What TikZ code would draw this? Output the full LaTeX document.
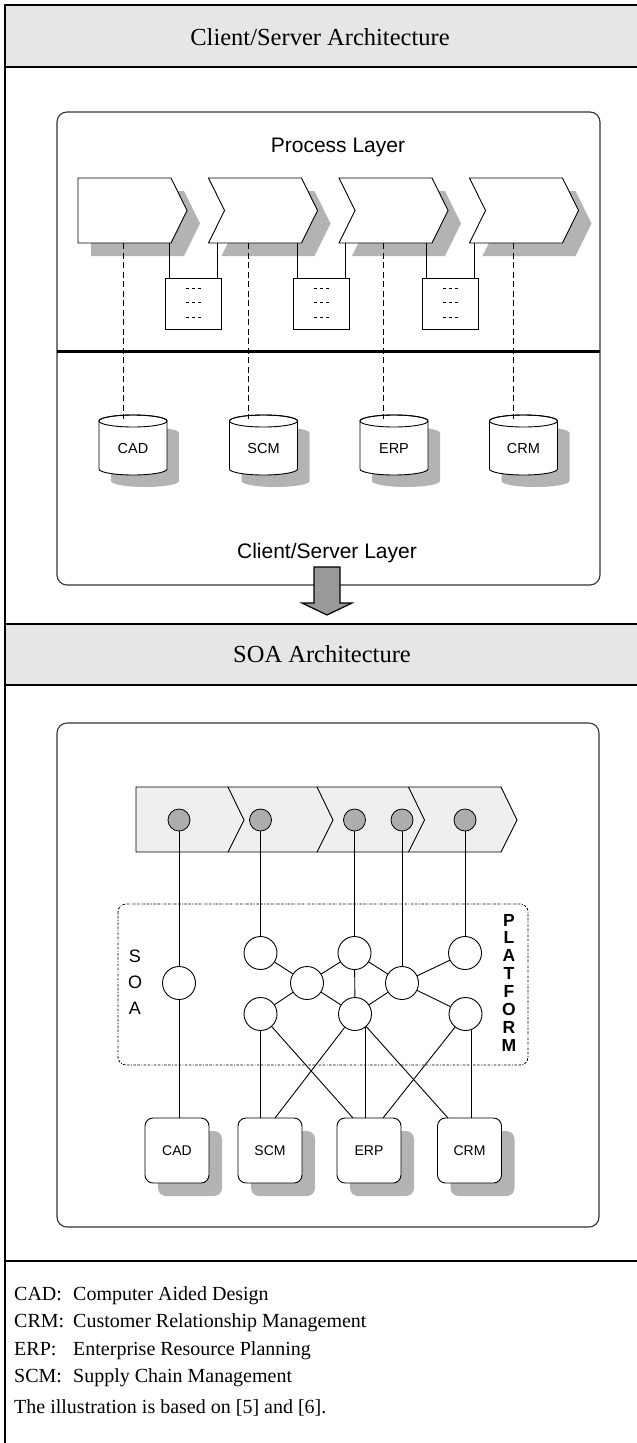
\documentclass[tikz,border=0pt]{standalone}
\usepackage{fontspec}
\setmainfont{Liberation Serif}
\setsansfont{Liberation Sans}
\usetikzlibrary{shadows}
\definecolor{hdr}{HTML}{E6E6E6}
\definecolor{shd}{HTML}{B3B3B3}
\definecolor{bandc}{HTML}{EFEFEF}
\definecolor{dotc}{HTML}{ADADAD}
\definecolor{arrc}{HTML}{999999}
\definecolor{frm}{HTML}{333333}
\begin{document}
\begin{tikzpicture}[x=1pt,y=-1pt,
  hdrtext/.style={font=\fontsize{24.5}{28}\selectfont, anchor=base, inner sep=0},
  lgd/.style={font=\fontsize{20}{24}\selectfont, anchor=base west, inner sep=0},
  lay/.style={font=\sffamily\fontsize{21}{24}\selectfont, anchor=base, inner sep=0},
  lbl/.style={font=\sffamily\fontsize{14.5}{17}\selectfont, anchor=base, inner sep=0},
  vlet/.style={font=\sffamily\fontsize{18}{20}\selectfont, inner sep=0},
  plet/.style={font=\sffamily\bfseries\fontsize{17.5}{20}\selectfont, inner sep=0},
  framel/.style={draw=black, line width=2pt},
  cont/.style={draw=frm, line width=1.1pt, rounded corners=10pt},
  myshadow/.style={drop shadow={shadow xshift=13pt, shadow yshift=-13pt, fill=shd, opacity=1}},
  chev/.style={draw=black, fill=white, line width=0.9pt, myshadow},
  conn/.style={draw=black, line width=0.9pt},
  dsh/.style={draw=black, line width=0.8pt, dash pattern=on 6pt off 3.5pt},
  minidash/.style={draw=black, line width=0.6pt, dash pattern=on 3pt off 3pt},
  sbox/.style={draw=black, fill=white, line width=0.9pt, minimum width=56pt, minimum height=51pt, inner sep=0},
  sysbox/.style={draw=black, fill=white, line width=0.9pt, rounded corners=8pt, minimum width=64pt, minimum height=65pt, inner sep=0, font=\sffamily\fontsize{14}{16}\selectfont, myshadow},
  svc/.style={circle, draw=black, fill=white, line width=0.9pt, minimum size=33pt, inner sep=0},
  dotn/.style={circle, draw=black, fill=dotc, line width=0.8pt, minimum size=22pt, inner sep=0},
  soabox/.style={draw=black, line width=0.8pt, rounded corners=8pt, dash pattern=on 2.5pt off 1.5pt on 2.5pt off 1.5pt on 0.8pt off 1.5pt},
]
\useasboundingbox (0,0) rectangle (637,1443);

% ---------- frame and headers ----------
\fill[hdr] (5,5) rectangle (637,67);
\fill[hdr] (5,624) rectangle (637,685);
\draw[framel] (4,5) -- (637,5);
\draw[framel] (5,67) -- (637,67);
\draw[framel] (5,624) -- (637,624);
\draw[framel] (5,685) -- (637,685);
\draw[framel] (5,1261) -- (637,1261);
\draw[framel] (5,4) -- (5,1443);
\node[hdrtext] (h1) at (320,45) {Client/Server Architecture};
\node[hdrtext] (h2) at (322,662) {SOA Architecture};

% ---------- Client/Server part ----------
\draw[cont] (57,112) rectangle (600,585);
\node[lay] (pl) at (338,152) {Process Layer};

\draw[chev] (78,178) -- (171,178) -- (187,210.5) -- (171,243) -- (78,243) -- cycle;
\foreach \L in {208.5,339,469.5}
  \draw[chev] (\L,178) -- (\L+93,178) -- (\L+109,210.5) -- (\L+93,243) -- (\L,243) -- (\L+16,210.5) -- cycle;

% small function boxes
\node[sbox] (b1) at (193,303.5) {};
\node[sbox] (b2) at (321.5,303.5) {};
\node[sbox] (b3) at (450,303.5) {};
\foreach \bx in {193,321.5,450}
  \foreach \dy in {-15.5,-0.8,13.5}
    \draw[minidash] (\bx-7.5,303.5+\dy) -- (\bx+7.5,303.5+\dy);

\coordinate (cbot) at (0,243);
\foreach \n/\xa/\xb in {1/169/217, 2/297.5/345.5, 3/426/474} {
  \coordinate (b\n l) at (\xa,278);
  \coordinate (b\n r) at (\xb,278);
  \draw[conn] (b\n l) -- (b\n l |- cbot);
  \draw[conn] (b\n r) -- (b\n r |- cbot);
}

\draw[line width=3pt] (57,351) -- (600,351);

% databases
\foreach \cx/\nm/\lab/\dx in {133/cy1/CAD/123, 263.5/cy2/SCM/248, 394/cy3/ERP/383, 523.5/cy4/CRM/513} {
  \fill[shd] (\cx-22,433) -- (\cx-22,481) arc[start angle=180,end angle=360,x radius=34pt,y radius=6pt]
     -- (\cx+46,433) arc[start angle=0,end angle=180,x radius=34pt,y radius=6pt] -- cycle;
  \draw[conn, fill=white] (\cx-34,421) -- (\cx-34,469) arc[start angle=180,end angle=360,x radius=34pt,y radius=6pt]
     -- (\cx+34,421) arc[start angle=0,end angle=180,x radius=34pt,y radius=6pt] -- cycle;
  \draw[conn] (\cx,421) ellipse[x radius=34pt, y radius=6pt];
  \node[lbl] (\nm) at (\cx,453) {\lab};
  \coordinate (\nm top) at (\dx,419);
  \draw[dsh] (\nm top |- cbot) -- (\nm top);
}

\node[lay] (csl) at (327,558) {Client/Server Layer};
\draw[fill=arrc, line width=1.2pt] (314,567) -- (340,567) -- (340,603) -- (352,603) -- (327,615)
   -- (302,603) -- (314,603) -- cycle;

% ---------- SOA part ----------
\draw[cont] (57,723) rectangle (599,1227);

\draw[draw=black, fill=bandc, line width=0.9pt] (136,787) -- (501,787) -- (517,820) -- (501,852) -- (136,852) -- cycle;
\foreach \bx in {228,317,408.5}
  \draw[conn] (\bx,787) -- (\bx+16,820) -- (\bx,852);

\draw[soabox] (118,904) rectangle (528,1065);
\node[vlet] (sS) at (135,956) {S};
\node[vlet] (sO) at (135,982) {O};
\node[vlet] (sA) at (135,1008) {A};
\foreach \ch [count=\i from 0] in {P,L,A,T,F,O,R,M}
  \node[plet] (pf\i) at (509,920+17.9*\i) {\ch};

% process step handles
\node[dotn] (d1) at (179,820) {};
\node[dotn] (d2) at (260.5,820) {};
\node[dotn] (d3) at (354.5,820) {};
\node[dotn] (d4) at (402,820) {};
\node[dotn] (d5) at (465,820) {};

% services
\node[svc] (L)  at (179,983) {};
\node[svc] (A1) at (260.5,953) {};
\node[svc] (A2) at (354.5,953) {};
\node[svc] (A3) at (465,953) {};
\node[svc] (B1) at (307,983) {};
\node[svc] (B2) at (402,983) {};
\node[svc] (C1) at (260.5,1014) {};
\node[svc] (C2) at (355,1014) {};
\node[svc] (C3) at (465.5,1014) {};

% application systems
\node[sysbox] (CAD) at (177,1150.5) {CAD};
\node[sysbox] (SCM) at (270,1150.5) {SCM};
\node[sysbox] (ERP) at (369,1150.5) {ERP};
\node[sysbox] (CRM) at (469.5,1150.5) {CRM};

\coordinate (e1) at (353,1118);
\coordinate (s2) at (275,1118);
\coordinate (r1) at (448,1118);
\coordinate (e3) at (383,1118);

\draw[conn] (d1) -- (L);
\draw[conn] (L) -- (L |- CAD.north);
\draw[conn] (d2) -- (A1);
\draw[conn] (d3) -- (A2);
\draw[conn] (d4) -- (B2);
\draw[conn] (d5) -- (A3);
\draw[conn] (A1) -- (B1);
\draw[conn] (B1) -- (A2);
\draw[conn] (A2) -- (B2);
\draw[conn] (B2) -- (A3);
\draw[conn] (A2) -- (C2);
\draw[conn] (C1) -- (B1);
\draw[conn] (B1) -- (C2);
\draw[conn] (C2) -- (B2);
\draw[conn] (B2) -- (C3);
\draw[conn] (C1) -- (C1 |- SCM.north);
\draw[conn] (C1) -- (e1);
\draw[conn] (C2) -- (s2);
\draw[conn] (C2.-50) -- (C2.-50 |- ERP.north);
\draw[conn] (C2) -- (r1);
\draw[conn] (C3) -- (e3);
\draw[conn] (C3.-70) -- (C3.-70 |- CRM.north);

% ---------- legend ----------
\node[lgd] (k1) at (14,1300) {CAD:};
\node[lgd] (v1) at (73,1300) {Computer Aided Design};
\node[lgd] (k2) at (14,1327) {CRM:};
\node[lgd] (v2) at (73,1327) {Customer Relationship Management};
\node[lgd] (k3) at (14,1355) {ERP:};
\node[lgd] (v3) at (73,1355) {Enterprise Resource Planning};
\node[lgd] (k4) at (14,1382) {SCM:};
\node[lgd] (v4) at (73,1382) {Supply Chain Management};
\node[lgd] (note) at (14,1413) {The illustration is based on [5] and [6].};
\end{tikzpicture}
\end{document}
